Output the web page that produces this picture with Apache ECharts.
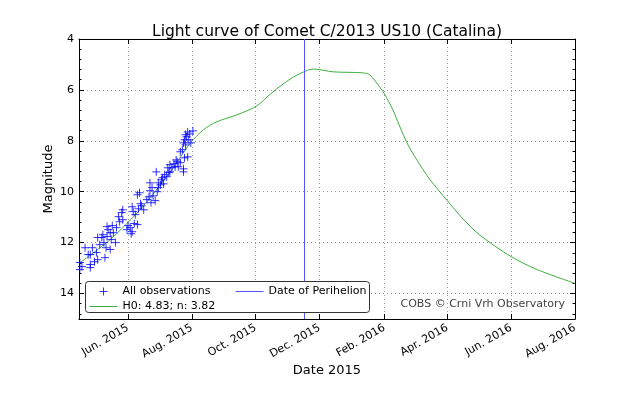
<!DOCTYPE html>
<html><head><meta charset="utf-8">
<script src="https://cdn.jsdelivr.net/npm/echarts@6/dist/echarts.min.js"></script>
<style>html,body{margin:0;padding:0;background:#fff}#c{width:640px;height:400px}</style>
</head><body><div id="c"></div>
<script>
// ---- data ----
const obsDates = [
'2015-04-16','2015-04-16','2015-04-18','2015-04-21','2015-04-24','2015-04-26','2015-04-26','2015-04-26','2015-04-28','2015-04-30',
'2015-05-02','2015-05-03','2015-05-03','2015-05-05','2015-05-07','2015-05-08','2015-05-09','2015-05-10','2015-05-11','2015-05-12',
'2015-05-12','2015-05-13','2015-05-15','2015-05-15','2015-05-16','2015-05-17','2015-05-18','2015-05-20','2015-05-21','2015-05-23',
'2015-05-24','2015-05-26','2015-05-27','2015-05-27','2015-05-31','2015-06-01','2015-06-03','2015-06-04','2015-06-05','2015-06-05',
'2015-06-06','2015-06-07','2015-06-08','2015-06-10','2015-06-10','2015-06-11','2015-06-12','2015-06-13','2015-06-14','2015-06-16',
'2015-06-19','2015-06-21','2015-06-22','2015-06-22','2015-06-23','2015-06-24','2015-06-25','2015-06-27','2015-06-28','2015-06-29',
'2015-06-30','2015-06-30','2015-07-02','2015-07-03','2015-07-04','2015-07-05','2015-07-06','2015-07-08','2015-07-09','2015-07-10',
'2015-07-11','2015-07-11','2015-07-13','2015-07-15','2015-07-16','2015-07-17','2015-07-18','2015-07-19','2015-07-21','2015-07-21',
'2015-07-23','2015-07-24','2015-07-24','2015-07-24','2015-07-25','2015-07-25','2015-07-26','2015-07-26','2015-07-27','2015-07-28',
'2015-07-28','2015-07-29','2015-07-30','2015-08-02','2015-07-31'
];
const obsMags = [
12.78,13.06,12.94,12.20,12.47,12.47,12.86,12.98,12.20,12.75,
12.39,11.80,12.67,12.08,11.80,11.69,12.00,12.59,12.20,11.37,
11.76,11.49,12.27,11.61,11.88,11.33,11.61,12.00,11.41,10.98,
11.18,10.82,10.71,11.10,11.49,11.33,11.41,11.65,11.57,10.59,
10.78,11.25,10.90,10.12,11.29,10.67,10.04,10.47,10.55,10.71,
10.31,10.20,9.65,9.96,10.43,9.84,10.16,10.35,9.22,10.00,
9.65,9.84,9.73,9.53,9.45,9.69,9.33,9.41,9.06,9.25,
8.94,9.22,9.06,8.90,9.02,8.75,8.82,9.02,8.43,8.86,
8.35,8.08,9.10,9.22,7.96,8.67,8.16,7.76,7.84,7.65,
8.63,7.96,7.73,7.61,8.08
];
const fitDates = ['2015-04-15','2015-05-15','2015-06-10','2015-06-22','2015-07-11','2015-07-30','2015-08-12','2015-08-25',
'2015-09-13','2015-10-02','2015-10-15','2015-11-03','2015-11-16','2015-11-25','2015-12-14','2016-01-11','2016-01-18',
'2016-01-28','2016-02-01','2016-02-09','2016-02-15','2016-02-24','2016-03-06','2016-03-15','2016-04-01','2016-04-15',
'2016-05-02','2016-06-01','2016-06-26','2016-08-01'];
const fitMags = [12.82,11.88,10.82,10.24,9.25,8.12,7.57,7.25,
6.98,6.63,6.16,5.57,5.29,5.18,5.29,5.33,5.41,
5.92,6.16,6.78,7.38,8.20,8.95,9.50,10.35,11.02,
11.70,12.55,13.06,13.60];
const perihelionDate = '2015-11-16';
const xTickDates = ['2015-06-01','2015-08-01','2015-10-01','2015-12-01','2016-02-01','2016-04-01','2016-06-01','2016-08-01'];
const xTickLabels = ['Jun. 2015','Aug. 2015','Oct. 2015','Dec. 2015','Feb. 2016','Apr. 2016','Jun. 2016','Aug. 2016'];
const yTicks = [4, 6, 8, 10, 12, 14];
const xMin = '2015-04-15T05:00:00', xMax = '2016-08-01';
const yMin = 4, yMax = 15;

// ---- build ----
const t = s => new Date(s.length > 10 ? s + 'Z' : s + 'T00:00:00Z').getTime();
const tickTimes = xTickDates.map(t);
const FONT = 'DejaVu Sans';
const obsData = obsDates.map((d, i) => [t(d), obsMags[i]]);
const fitData = fitDates.map((d, i) => [t(d), fitMags[i]]);
const labelFor = v => { for (let i = 0; i < tickTimes.length; i++) if (Math.abs(tickTimes[i] - v) < 43200000) return xTickLabels[i]; return ''; };

const BLUE = '#0000ff', PERI = '#5555ff', GREEN = '#3fae3f';
const OBS = 'All observations', PER = 'Date of Perihelion', FIT = 'H0: 4.83; n: 3.82';
const plus = 'path://M0,5L10,5M5,0L5,10';
const plusIcon = 'path://M0,4L0.01,4M10,4L18,4M14,0L14,8M27.99,4L28,4';
const lineIcon = 'path://M0,0L0.01,0M0,4L28,4M27.99,8L28,8';
const chart = echarts.init(document.getElementById('c'), null, {renderer: 'canvas'});
const baseX = {
  type: 'value', min: t(xMin), max: t(xMax), scale: true,
  axisLine: {show: true, onZero: false, lineStyle: {color: '#000', width: 1}},
  axisTick: {show: true, inside: true, length: 5, customValues: tickTimes, lineStyle: {color: '#000'}},
  minorTick: {show: false}
};
const baseY = {
  type: 'value', inverse: true, min: yMin, max: yMax, interval: 2,
  axisLine: {show: true, onZero: false, lineStyle: {color: '#000', width: 1}},
  axisTick: {show: true, inside: true, length: 5, lineStyle: {color: '#000'}}
};
const minorY = {
  type: 'value', inverse: true, min: yMin, max: yMax, interval: 0.4,
  axisLine: {show: false}, axisLabel: {show: false}, splitLine: {show: false},
  axisTick: {show: true, inside: true, length: 2.5, lineStyle: {color: '#000'}}
};
const legendItem = (name, icon, color, left, top) => ({
  left: left, top: top, padding: 0, itemWidth: 28, itemHeight: 8, selectedMode: false, z: 11,
  textStyle: {fontFamily: FONT, fontSize: 11, color: '#000'},
  itemStyle: {color: 'none', borderColor: color, borderWidth: 1},
  data: [{name: name, icon: icon, itemStyle: {color: 'none', borderColor: color, borderWidth: 1}}]
});
chart.setOption({
  animation: false,
  backgroundColor: '#fff',
  textStyle: {fontFamily: FONT},
  title: {
    text: 'Light curve of Comet C/2013 US10 (Catalina)', left: 147, top: 19,
    textStyle: {fontFamily: FONT, fontSize: 15.5, fontWeight: 'normal', color: '#000'}
  },
  grid: {left: 79, right: 65, top: 39, bottom: 81, containLabel: false},
  xAxis: [
    Object.assign({}, baseX, {
      position: 'bottom',
      name: 'Date 2015', nameLocation: 'middle', nameGap: 45, nameMoveOverlap: false,
      nameTextStyle: {fontFamily: FONT, fontSize: 13, color: '#000'},
      axisLabel: {customValues: tickTimes, rotate: 30, formatter: labelFor, fontFamily: FONT, fontSize: 11, color: '#000', margin: 8},
      splitLine: {show: true, lineStyle: {color: '#999', type: [1, 3], width: 1}}
    }),
    Object.assign({}, baseX, {position: 'top', axisLabel: {show: false}, splitLine: {show: false}})
  ],
  yAxis: [
    Object.assign({}, baseY, {
      position: 'left',
      name: 'Magnitude', nameLocation: 'middle', nameGap: 24, nameMoveOverlap: false,
      nameTextStyle: {fontFamily: FONT, fontSize: 13, color: '#000'},
      axisLabel: {formatter: v => yTicks.indexOf(v) >= 0 ? String(v) : '', fontFamily: FONT, fontSize: 11, color: '#000', margin: 5},
      splitLine: {show: true, lineStyle: {color: '#999', type: [1, 3], width: 1}}
    }),
    Object.assign({}, baseY, {position: 'right', axisLabel: {show: false}, splitLine: {show: false}}),
    Object.assign({}, minorY, {position: 'left'}),
    Object.assign({}, minorY, {position: 'right'})
  ],
  legend: [
    legendItem(OBS, plusIcon, BLUE, 87, 285),
    legendItem(PER, lineIcon, PERI, 233, 285),
    legendItem(FIT, lineIcon, GREEN, 87, 300)
  ],
  graphic: [
    {
      type: 'rect', z: 9, silent: true,
      shape: {x: 85.5, y: 281.5, width: 284, height: 31, r: 3},
      style: {fill: '#fff', stroke: '#333', lineWidth: 1}
    },
    {
      type: 'text', right: 640 - 565, top: 299, z: 12,
      style: {text: 'COBS \u00a9 Crni Vrh Observatory', fill: '#444', font: '11px "DejaVu Sans"'}
    }
  ],
  series: [
    {
      name: OBS, type: 'scatter', data: obsData, symbol: plus, symbolSize: 8,
      itemStyle: {color: BLUE, borderColor: BLUE, borderWidth: 1}, z: 3
    },
    {
      name: PER, type: 'line', data: [], symbol: 'none',
      itemStyle: {color: PERI}, lineStyle: {color: PERI, width: 1},
      markLine: {silent: true, symbol: 'none', label: {show: false},
        lineStyle: {color: PERI, width: 1, type: 'solid'},
        data: [{xAxis: t(perihelionDate)}]}
    },
    {
      name: FIT, type: 'line', data: fitData, smooth: 0.3, symbol: 'none',
      itemStyle: {color: GREEN}, lineStyle: {color: GREEN, width: 1}, z: 2
    }
  ]
});
</script></body></html>
